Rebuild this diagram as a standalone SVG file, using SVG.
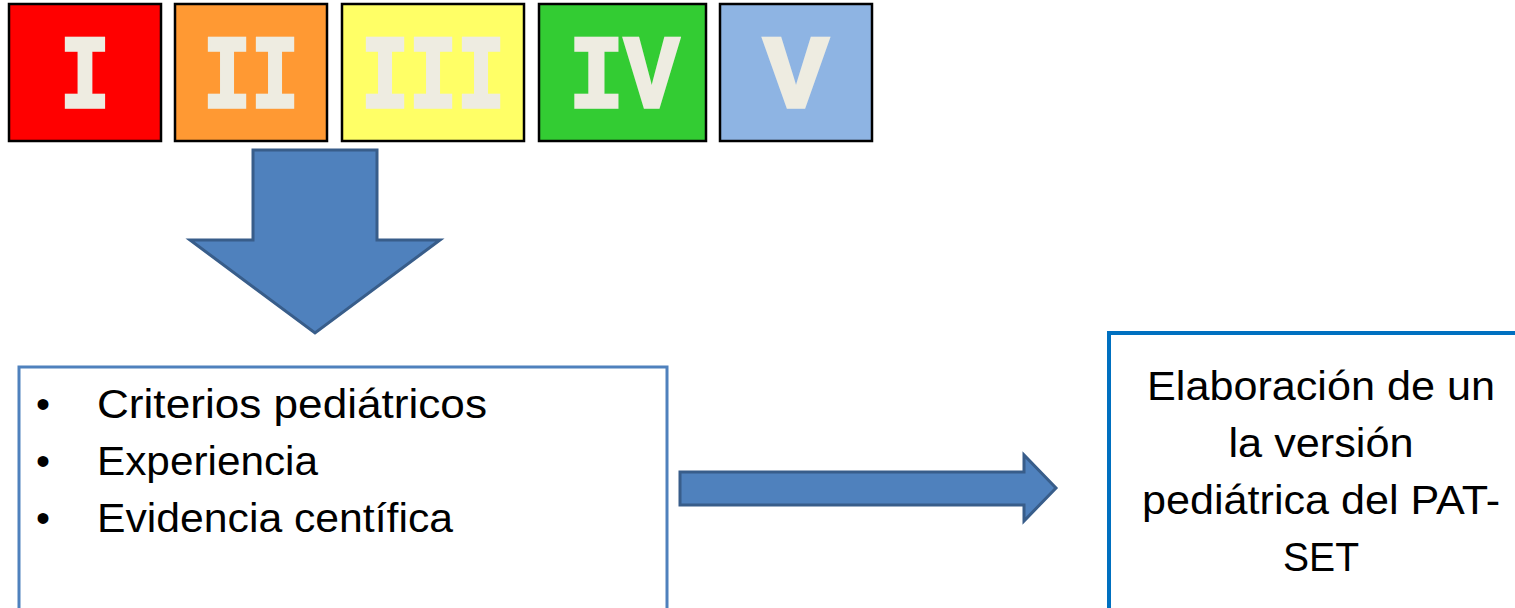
<svg xmlns="http://www.w3.org/2000/svg" width="1515" height="608" viewBox="0 0 1515 608">
<style>
.lvl{stroke:#000;stroke-width:2.5}
.num{font-family:"Liberation Mono",monospace;font-weight:bold;fill:#EEECE1;stroke:#EEECE1;stroke-width:2.5;text-anchor:middle}
.blk{stroke:#385D8A;stroke-width:3;fill:#4F81BD;stroke-linejoin:miter}
.t{font-family:"Liberation Sans",Arial,sans-serif;font-size:40px;fill:#000}
</style>
<rect width="1515" height="608" fill="#fff"/>
<g id="level-I"><rect class="lvl" x="9" y="4" width="152" height="137" fill="#FF0000"/><text class="num" x="85" y="107" font-size="80" transform="translate(85 107) scale(1.05 1.3) translate(-85 -107)">I</text></g>
<g id="level-II"><rect class="lvl" x="175" y="4" width="152" height="137" fill="#FF9933"/><text class="num" x="251" y="107" font-size="80" transform="translate(251 107) scale(1 1.3) translate(-251 -107)">II</text></g>
<g id="level-III"><rect class="lvl" x="342" y="4" width="182" height="137" fill="#FFFF66"/><text class="num" x="433" y="107" font-size="80" transform="translate(433 107) scale(1 1.3) translate(-433 -107)">III</text></g>
<g id="level-IV"><rect class="lvl" x="539" y="4" width="167" height="137" fill="#33CC33"/><text class="num" x="624" y="107" font-size="80" transform="translate(624 107) scale(1.15 1.3) translate(-624 -107)">IV</text></g>
<g id="level-V"><rect class="lvl" x="720" y="4" width="152" height="137" fill="#8EB4E3"/><text class="num" x="796" y="107" font-size="80" transform="translate(796 107) scale(1.35 1.3) translate(-796 -107)">V</text></g>
<g id="connectors">
<polygon class="blk" points="253,150 377,150 377,240 440,240 315,333 190,240 253,240"/>
<polygon class="blk" points="680,472 1024,472 1024,455 1056,488 1024,521 1024,505 680,505"/>
</g>
<g id="criteria">
<rect x="19" y="367" width="648" height="250" fill="#fff" stroke="#4F81BD" stroke-width="3"/>
<text class="t"><tspan x="36" y="418">•</tspan><tspan x="97" y="418" textLength="390" lengthAdjust="spacingAndGlyphs">Criterios pediátricos</tspan></text>
<text class="t"><tspan x="36" y="475">•</tspan><tspan x="97" y="475" textLength="221" lengthAdjust="spacingAndGlyphs">Experiencia</tspan></text>
<text class="t"><tspan x="36" y="532">•</tspan><tspan x="97" y="532" textLength="356" lengthAdjust="spacingAndGlyphs">Evidencia centífica</tspan></text>
</g>
<g id="result">
<rect x="1109" y="333" width="420" height="290" fill="#fff" stroke="#0070C0" stroke-width="4"/>
<text class="t" text-anchor="middle"><tspan x="1321" y="400" textLength="348" lengthAdjust="spacingAndGlyphs">Elaboración de un</tspan><tspan x="1321" y="457" textLength="185" lengthAdjust="spacingAndGlyphs">la versión</tspan><tspan x="1321" y="514" textLength="358" lengthAdjust="spacingAndGlyphs">pediátrica del PAT-</tspan><tspan x="1321" y="571" textLength="76" lengthAdjust="spacingAndGlyphs">SET</tspan></text>
</g>
</svg>
